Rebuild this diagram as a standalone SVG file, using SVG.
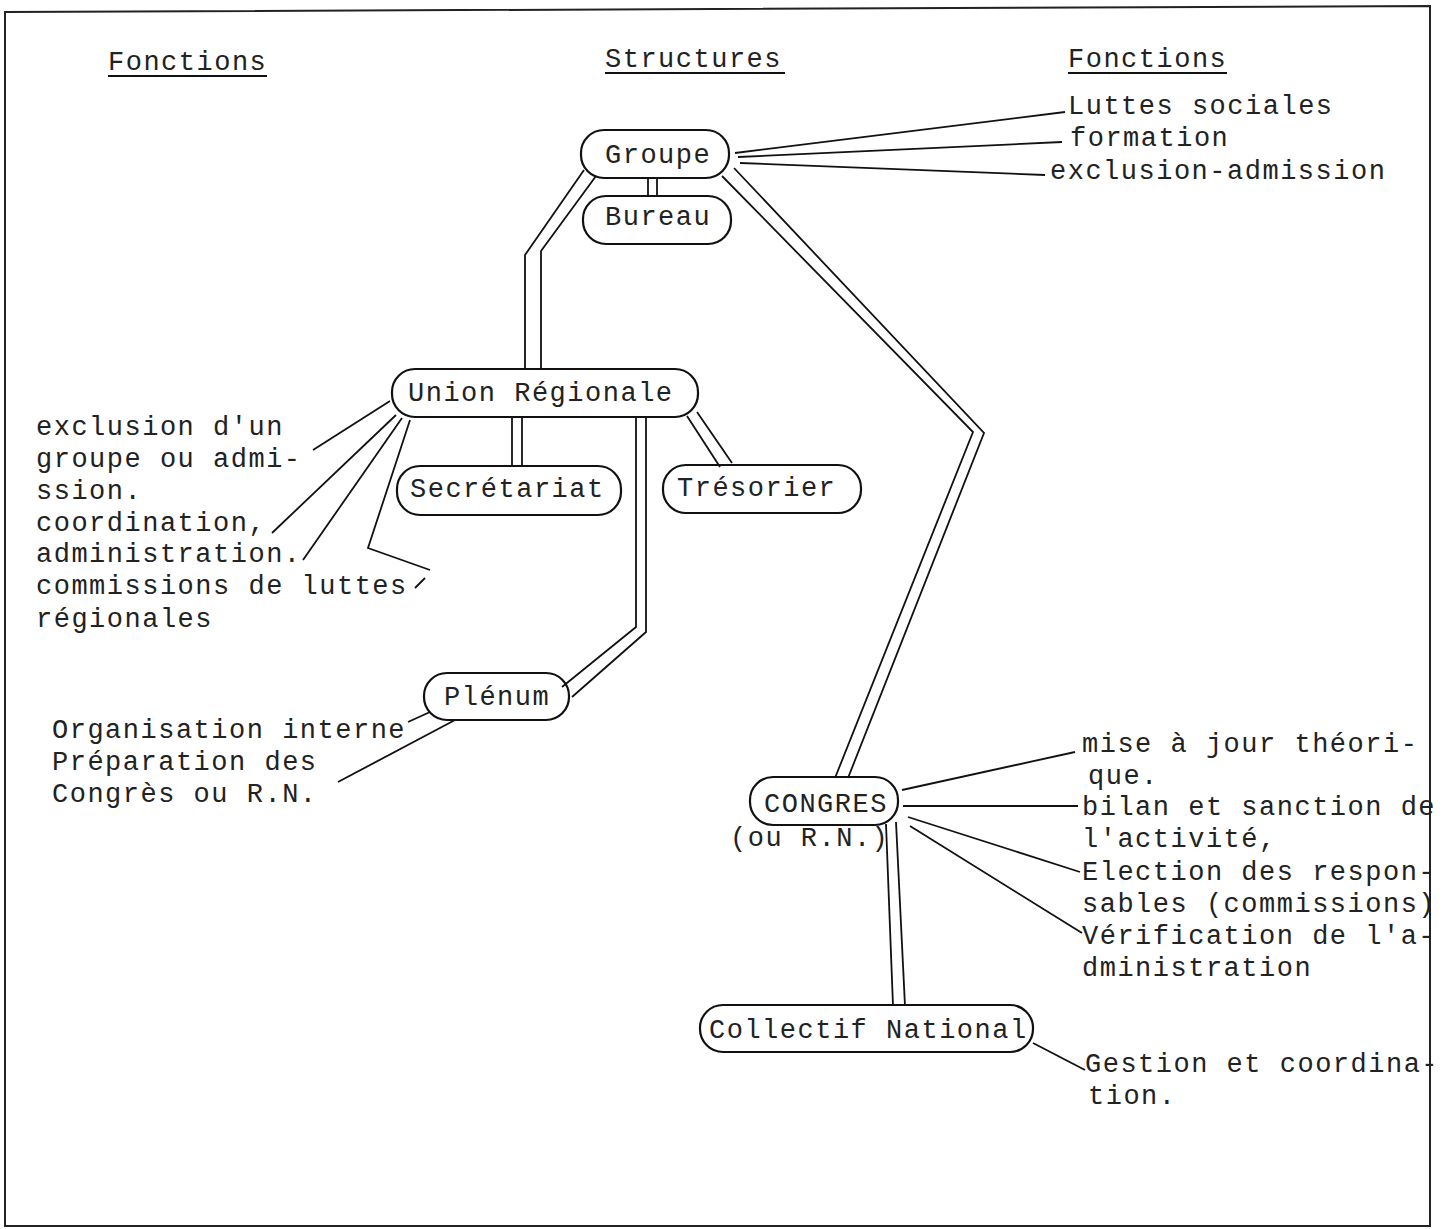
<svg xmlns="http://www.w3.org/2000/svg" width="1448" height="1229" viewBox="0 0 1448 1229">
<style>
  text { font-family: "Liberation Mono", "DejaVu Sans Mono", monospace; font-size: 27px; letter-spacing: 1.5px; fill: #222; }
  .box { fill: none; stroke: #111; stroke-width: 2.2; }
  .c { fill: none; stroke: #111; stroke-width: 1.8; stroke-linejoin: miter; }
  .f { fill: none; stroke: #111; stroke-width: 1.8; }
  .frame { fill: none; stroke: #222; stroke-width: 2; }
</style>
<rect width="1448" height="1229" fill="#ffffff"/>
<g id="frame">
  <path class="frame" d="M5,12 L1430,6 L1430,1226 L5,1226 Z"/>
</g>
<g id="headers">
  <text x="108" y="70">Fonctions</text>
  <line class="f" x1="108" y1="76" x2="267" y2="76"/>
  <text x="605" y="67">Structures</text>
  <line class="f" x1="605" y1="73" x2="785" y2="73"/>
  <text x="1068" y="67">Fonctions</text>
  <line class="f" x1="1068" y1="73" x2="1227" y2="73"/>
</g>
<g id="connectors">
  <!-- Groupe - Bureau -->
  <line class="c" x1="648" y1="178" x2="648" y2="196"/>
  <line class="c" x1="657" y1="178" x2="657" y2="196"/>
  <!-- Groupe - Union Regionale -->
  <polyline class="c" points="584,170 525,255 525,370"/>
  <polyline class="c" points="596,176 541,251 541,370"/>
  <!-- Groupe - Congres -->
  <polyline class="c" points="722,176 973,432 835,778"/>
  <polyline class="c" points="734,168 984,433 848,778"/>
  <!-- Union - Secretariat -->
  <line class="c" x1="512" y1="417" x2="512" y2="466"/>
  <line class="c" x1="522" y1="417" x2="522" y2="466"/>
  <!-- Union - Tresorier -->
  <line class="c" x1="687" y1="416" x2="720" y2="467"/>
  <line class="c" x1="697" y1="412" x2="732" y2="463"/>
  <!-- Union - Plenum -->
  <polyline class="c" points="636,417 636,627 562,687"/>
  <polyline class="c" points="646,417 646,632 572,697"/>
  <!-- Congres - Collectif National -->
  <line class="c" x1="886" y1="824" x2="893" y2="1006"/>
  <line class="c" x1="896" y1="822" x2="905" y2="1006"/>
  <!-- function links -->
  <line class="f" x1="735" y1="153" x2="1065" y2="112"/>
  <line class="f" x1="738" y1="157" x2="1062" y2="142"/>
  <line class="f" x1="740" y1="163" x2="1045" y2="175"/>
  <line class="f" x1="390" y1="401" x2="313" y2="450"/>
  <line class="f" x1="396" y1="415" x2="272" y2="533"/>
  <line class="f" x1="402" y1="418" x2="303" y2="560"/>
  <polyline class="f" points="410,420 368,548 430,570"/>
  <line class="f" x1="425" y1="578" x2="415" y2="588"/>
  <line class="f" x1="430" y1="712" x2="408" y2="722"/>
  <line class="f" x1="455" y1="720" x2="338" y2="782"/>
  <line class="f" x1="902" y1="790" x2="1075" y2="752"/>
  <line class="f" x1="903" y1="806" x2="1078" y2="806"/>
  <line class="f" x1="908" y1="817" x2="1080" y2="872"/>
  <line class="f" x1="910" y1="826" x2="1082" y2="933"/>
  <line class="f" x1="1033" y1="1043" x2="1085" y2="1070"/>
</g>
<g id="node-groupe">
  <rect class="box" x="581" y="130" width="148" height="48" rx="23"/>
  <text x="605" y="163">Groupe</text>
</g>
<g id="node-bureau">
  <rect class="box" x="583" y="196" width="148" height="48" rx="23"/>
  <text x="605" y="225">Bureau</text>
</g>
<g id="node-union">
  <rect class="box" x="392" y="369" width="306" height="48" rx="23"/>
  <text x="408" y="401">Union Régionale</text>
</g>
<g id="node-secretariat">
  <rect class="box" x="397" y="466" width="224" height="49" rx="23"/>
  <text x="410" y="497">Secrétariat</text>
</g>
<g id="node-tresorier">
  <rect class="box" x="663" y="465" width="198" height="48" rx="23"/>
  <text x="677" y="496">Trésorier</text>
</g>
<g id="node-plenum">
  <rect class="box" x="424" y="673" width="145" height="47" rx="23"/>
  <text x="444" y="705">Plénum</text>
</g>
<g id="node-congres">
  <rect class="box" x="750" y="777" width="148" height="48" rx="23"/>
  <text x="764" y="812">CONGRES</text>
  <text x="730" y="846">(ou R.N.)</text>
</g>
<g id="node-collectif">
  <rect class="box" x="700" y="1005" width="333" height="47" rx="23"/>
  <text x="709" y="1038">Collectif National</text>
</g>
<g id="functions-groupe">
  <text x="1068" y="114">Luttes sociales</text>
  <text x="1070" y="146">formation</text>
  <text x="1050" y="179">exclusion-admission</text>
</g>
<g id="functions-union">
  <text x="36" y="435">exclusion d'un</text>
  <text x="36" y="467">groupe ou admi-</text>
  <text x="36" y="499">ssion.</text>
  <text x="36" y="531">coordination,</text>
  <text x="36" y="562">administration.</text>
  <text x="36" y="594">commissions de luttes</text>
  <text x="36" y="627">régionales</text>
</g>
<g id="functions-plenum">
  <text x="52" y="738">Organisation interne</text>
  <text x="52" y="770">Préparation des</text>
  <text x="52" y="802">Congrès ou R.N.</text>
</g>
<g id="functions-congres">
  <text x="1082" y="752">mise à jour théori-</text>
  <text x="1088" y="784">que.</text>
  <text x="1082" y="815">bilan et sanction de</text>
  <text x="1082" y="847">l'activité,</text>
  <text x="1082" y="880">Election des respon-</text>
  <text x="1082" y="912">sables (commissions)</text>
  <text x="1082" y="944">Vérification de l'a-</text>
  <text x="1082" y="976">dministration</text>
</g>
<g id="functions-collectif">
  <text x="1085" y="1072">Gestion et coordina-</text>
  <text x="1088" y="1104">tion.</text>
</g>
</svg>
